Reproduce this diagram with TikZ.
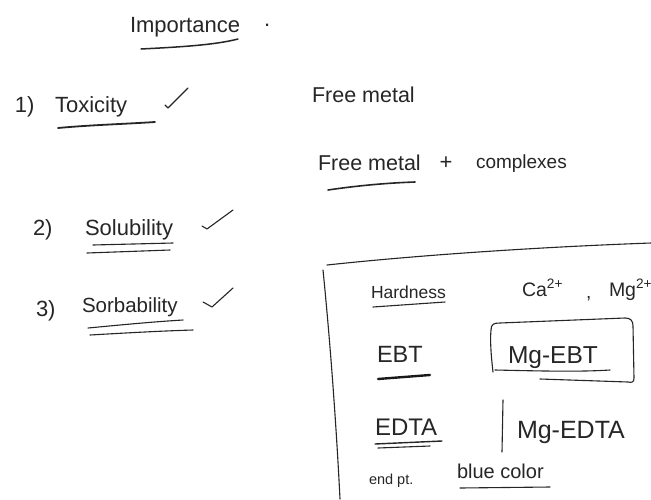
\documentclass[tikz,border=0pt]{standalone}
\usepackage{fontspec}
\setmainfont{Liberation Sans}
\newcommand\hwsz[1]{\fontsize{#1}{#1}\selectfont}
\tikzset{
  hw/.style={anchor=base west, inner sep=0pt, outer sep=0pt, text=black!85},
  ink/.style={draw=black!85, line width=1.1pt, line cap=round, line join=round},
  thickink/.style={draw=black!90, line width=2.4pt, line cap=round},
}
\begin{document}
\begin{tikzpicture}[x=1pt,y=-1pt]
\useasboundingbox[fill=white] (0,0) rectangle (651,499);
% title
\node[hw, font=\hwsz{22}] (imp) at (130,32) {Importance};
\node[hw, font=\hwsz{22}] (dot) at (264,26) {.};
\draw[ink, line width=1.5pt] (141,49) .. controls (180,47) and (215,45) .. (238,39);
% 1) Toxicity
\node[hw, font=\hwsz{22}] (n1) at (15,112) {1)};
\node[hw, font=\hwsz{22}] (tox) at (55,112) {Toxicity};
\draw[ink, line width=1.8pt] (58,128) .. controls (90,125) and (125,124) .. (155,122);
\draw[ink] (165,105) -- (168,108) -- (188,88);
% Free metal
\node[hw, font=\hwsz{21.5}] (fm1) at (312,102) {Free metal};
\node[hw, font=\hwsz{21.5}] (fm2) at (318,170) {Free metal};
\node[hw, font=\hwsz{22}, anchor=center] (plus) at (446,163) {+};
\node[hw, font=\hwsz{19}] (cpx) at (476,168) {complexes};
\draw[ink, line width=1.6pt] (328,190) .. controls (355,186) and (385,183) .. (415,182);
% 2) Solubility
\node[hw, font=\hwsz{22}] (n2) at (33,235) {2)};
\node[hw, font=\hwsz{22}] (sol) at (85,235) {Solubility};
\draw[ink] (93,245) -- (173,243);
\draw[ink] (87,253) -- (170,250);
\draw[ink] (202,226) -- (207,229) -- (233,210);
% 3) Sorbability
\node[hw, font=\hwsz{22}] (n3) at (36,316) {3)};
\node[hw, font=\hwsz{20.5}] (sor) at (82,312) {Sorbability};
\draw[ink] (88,328) .. controls (120,325) and (150,322) .. (183,320);
\draw[ink] (90,335) .. controls (125,333) and (160,331) .. (193,330);
\draw[ink] (203,302) -- (212,307) -- (233,288);
% big box
\draw[ink] (327,265) .. controls (420,255) and (540,247) .. (651,243);
\draw[ink] (323,270) .. controls (330,340) and (336,420) .. (340,499);
% Hardness row
\node[hw, font=\hwsz{17.5}] (hard) at (371,298) {Hardness};
\draw[ink] (373,307) -- (445,302);
\node[hw, font=\hwsz{19.5}] (ca) at (522,296) {Ca\textsuperscript{2+}};
\node[hw, font=\hwsz{19}] (comma) at (586,298) {,};
\node[hw, font=\hwsz{19.5}] (mg) at (609,296) {Mg\textsuperscript{2+}};
% EBT row
\node[hw, font=\hwsz{23.5}] (ebt) at (377,362) {EBT};
\draw[thickink] (378,379) -- (430,375);
\node[hw, font=\hwsz{24.5}] (mgebt) at (508,363) {Mg-EBT};
\draw[ink] (493,372) .. controls (491,355) and (490,340) .. (491,330)
  .. controls (491,324) and (494,323) .. (500,323)
  -- (625,318) .. controls (631,318) and (633,321) .. (633,326)
  -- (634,378) .. controls (634,382) and (632,383) .. (628,382)
  -- (540,379);
\draw[ink] (495,370) .. controls (540,371) and (580,372) .. (610,370);
% EDTA row
\node[hw, font=\hwsz{24}] (edta) at (375,435) {EDTA};
\draw[ink, line width=1.4pt] (375,444) -- (442,441);
\draw[ink] (378,448) -- (430,446);
\draw[ink] (503,400) -- (502,452);
\node[hw, font=\hwsz{25}] (mgedta) at (517,438) {Mg-EDTA};
% end pt
\node[hw, font=\hwsz{14.5}] (endpt) at (369,484) {end pt.};
\node[hw, font=\hwsz{20}] (blue) at (457,478) {blue color};
\draw[ink] (460,488) -- (550,487);
\end{tikzpicture}
\end{document}
